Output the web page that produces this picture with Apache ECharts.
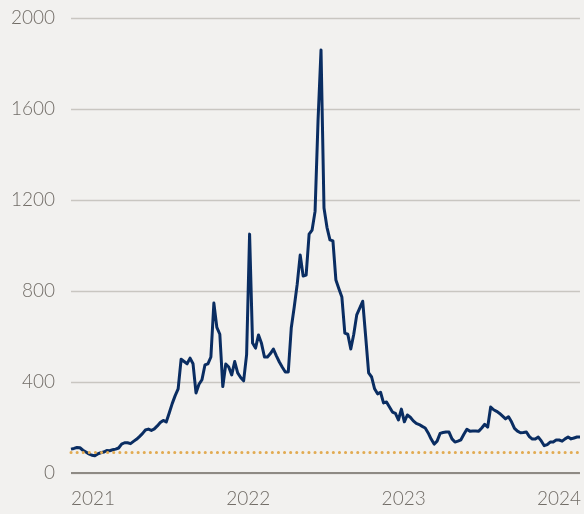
<!DOCTYPE html>
<html>
<head>
<meta charset="utf-8">
<script src="https://cdn.jsdelivr.net/npm/echarts@6/dist/echarts.min.js"></script>
<style>
  html, body { margin: 0; padding: 0; background: #f2f1ef; }
  #chart { width: 584px; height: 514px; }
</style>
</head>
<body>
<div id="chart"></div>
<script>
// weekly values, first week = start of 2021
const startYear = 2021
const weekValues = [
  105, 108, 112, 111, 100, 92, 84, 78, 76, 84,
  89, 92, 99, 98, 102, 105, 110, 127, 133, 133,
  129, 139, 148, 160, 173, 189, 193, 187, 194, 207,
  222, 231, 224, 264, 305, 340, 370, 500, 490, 480,
  505, 480, 352, 390, 410, 475, 480, 510, 747, 640,
  610, 380, 479, 466, 431, 490, 440, 420, 405, 520,
  1050, 571, 549, 607, 570, 510, 510, 525, 545, 515,
  488, 465, 444, 444, 637, 730, 830, 958, 866, 870,
  1050, 1068, 1150, 1550, 1859, 1165, 1080, 1025, 1020, 848,
  810, 774, 615, 610, 545, 610, 695, 725, 755, 600,
  440, 422, 370, 348, 355, 308, 312, 290, 268, 262,
  233, 281, 225, 255, 245, 229, 218, 213, 205, 198,
  176, 149, 127, 140, 174, 178, 180, 180, 150, 136,
  140, 146, 170, 192, 184, 185, 185, 184, 198, 214,
  202, 290, 278, 271, 262, 250, 238, 247, 225, 196,
  184, 177, 178, 180, 160, 149, 149, 158, 141, 120,
  125, 136, 136, 145, 145, 140, 150, 158, 150, 154,
  158, 158
]
const referenceLevel = 91
const yTicks = [0, 400, 800, 1200, 1600, 2000]
const yearTicks = [2021, 2022, 2023, 2024]

const seriesData = weekValues.map((v, i) => [startYear + i * 7 / 365.25, v])
const lastX = seriesData[seriesData.length - 1][0]

const labelFont = { color: '#726d67', fontFamily: 'Lato', fontWeight: 300, fontSize: 19 }

const chart = echarts.init(document.getElementById('chart'), null, { renderer: 'canvas' })

chart.setOption({
  backgroundColor: '#f2f1ef',
  animation: false,
  grid: { left: 71, right: 2, top: 18, bottom: 41 },
  xAxis: {
    type: 'value',
    min: startYear,
    max: lastX,
    interval: 1,
    axisLine: { show: false },
    axisTick: { show: false },
    splitLine: { show: false },
    axisLabel: {
      ...labelFont,
      showMaxLabel: false,
      align: 'left',
      margin: 16,
      formatter: (v) => {
        const y = Math.round(v)
        return yearTicks.includes(y) && Math.abs(v - y) < 0.01 ? String(y) : ''
      }
    }
  },
  yAxis: {
    type: 'value',
    min: yTicks[0],
    max: yTicks[yTicks.length - 1],
    interval: 400,
    axisLine: { show: false },
    axisTick: { show: false },
    axisLabel: { ...labelFont, margin: 16, formatter: (v) => String(v) },
    splitLine: { lineStyle: { color: '#c9c6c1', width: 1.3 } }
  },
  series: [
    {
      type: 'line',
      data: seriesData,
      symbol: 'none',
      lineStyle: { color: '#0a2d62', width: 3, join: 'round' },
      markLine: {
        silent: true,
        symbol: 'none',
        label: { show: false },
        data: [
          { yAxis: referenceLevel, lineStyle: { color: '#e2ab52', width: 3, type: [0.1, 6], cap: 'round' } },
          { yAxis: 0, lineStyle: { color: '#8e8a84', width: 2.2, type: 'solid' } }
        ]
      },
      z: 3
    }
  ]
})
</script>
</body>
</html>
